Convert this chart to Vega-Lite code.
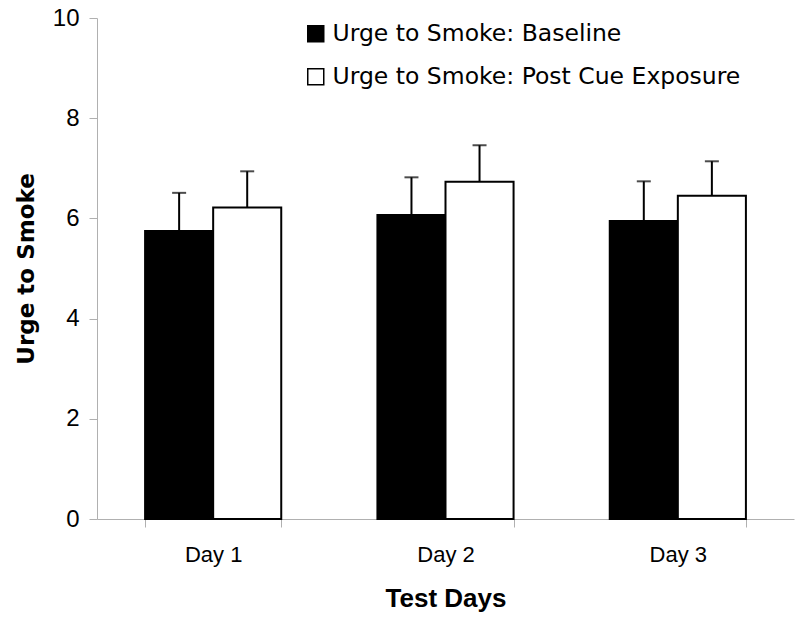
{
  "$schema": "https://vega.github.io/schema/vega-lite/v6.json",
  "autosize": {"type": "none"},
  "padding": {"left": 97, "top": 18, "right": 6, "bottom": 102},
  "width": 697,
  "height": 501,
  "background": "white",
  "config": {
    "view": {"stroke": null},
    "font": "Liberation Sans"
  },
  "data": {
    "values": [
      {"day": "Day 1", "series": "Urge to Smoke: Baseline", "value": 5.75, "upper": 6.51},
      {"day": "Day 1", "series": "Urge to Smoke: Post Cue Exposure", "value": 6.22, "upper": 6.94},
      {"day": "Day 2", "series": "Urge to Smoke: Baseline", "value": 6.07, "upper": 6.82},
      {"day": "Day 2", "series": "Urge to Smoke: Post Cue Exposure", "value": 6.73, "upper": 7.46},
      {"day": "Day 3", "series": "Urge to Smoke: Baseline", "value": 5.95, "upper": 6.74},
      {"day": "Day 3", "series": "Urge to Smoke: Post Cue Exposure", "value": 6.45, "upper": 7.14}
    ]
  },
  "encoding": {
    "x": {
      "field": "day",
      "type": "nominal",
      "scale": {"paddingInner": 0.414, "paddingOuter": 0.207},
      "axis": {
        "title": "Test Days",
        "titleFont": "Liberation Sans",
        "titleFontSize": 26,
        "titleFontWeight": "bold",
        "titleColor": "black",
        "titlePadding": 20,
        "labelAngle": 0,
        "labelFont": "Liberation Sans",
        "labelFontSize": 22,
        "labelColor": "black",
        "labelPadding": 17,
        "tickBand": "extent",
        "tickColor": "#b0b0b0",
        "tickSize": 8,
        "domainColor": "#b0b0b0",
        "domainWidth": 1,
        "grid": false
      }
    },
    "xOffset": {
      "field": "series",
      "type": "nominal",
      "sort": ["Urge to Smoke: Baseline", "Urge to Smoke: Post Cue Exposure"],
      "scale": {"paddingInner": 0, "paddingOuter": 0}
    }
  },
  "layer": [
    {
      "mark": {"type": "rule", "color": "black", "strokeWidth": 2},
      "encoding": {
        "y": {"field": "value", "type": "quantitative"},
        "y2": {"field": "upper"}
      }
    },
    {
      "mark": {"type": "tick", "color": "black", "thickness": 2, "size": 14},
      "encoding": {
        "y": {"field": "upper", "type": "quantitative"}
      }
    },
    {
      "mark": {"type": "bar", "stroke": "black", "strokeWidth": 2},
      "encoding": {
        "y": {
          "field": "value",
          "type": "quantitative",
          "scale": {"domain": [0, 10]},
          "axis": {
            "title": "Urge to Smoke",
            "titleFont": "DejaVu Sans",
            "titleFontSize": 23,
            "titleFontWeight": "bold",
            "titleColor": "black",
            "titlePadding": 14,
            "values": [0, 2, 4, 6, 8, 10],
            "labelFont": "Liberation Sans",
            "labelFontSize": 24,
            "labelColor": "black",
            "labelPadding": 10,
            "tickColor": "#b0b0b0",
            "tickSize": 8,
            "domainColor": "#b0b0b0",
            "grid": false
          }
        },
        "fill": {
          "field": "series",
          "type": "nominal",
          "scale": {
            "domain": ["Urge to Smoke: Baseline", "Urge to Smoke: Post Cue Exposure"],
            "range": ["black", "white"]
          },
          "legend": {
            "title": null,
            "orient": "none",
            "legendX": 207,
            "legendY": 4,
            "padding": 0,
            "symbolType": "square",
            "symbolSize": 256,
            "symbolStrokeColor": "black",
            "symbolStrokeWidth": 1.5,
            "labelFont": "DejaVu Sans",
            "labelFontSize": 23.5,
            "labelLimit": 0,
            "labelColor": "black",
            "labelOffset": 5,
            "rowPadding": 18
          }
        }
      }
    }
  ]
}
